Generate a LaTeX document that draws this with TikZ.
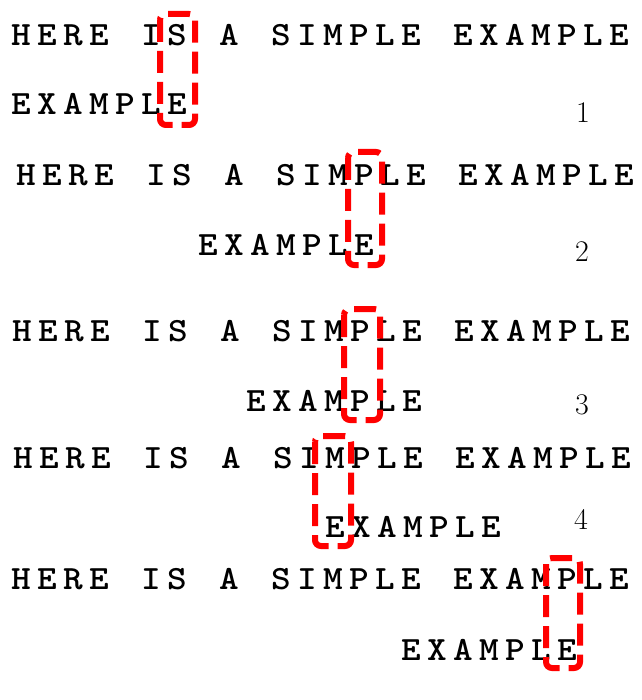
\documentclass[tikz,border=0pt]{standalone}
\usetikzlibrary{positioning}
\begin{document}
\begin{tikzpicture}[x=1pt,y=-1pt,
    letter/.style={inner sep=0pt,font=\fontsize{34}{34}\selectfont\ttfamily\bfseries},
    rownum/.style={inner sep=0pt,font=\fontsize{30}{30}\selectfont},
    matchbox/.style={red,line width=6pt,dash pattern=on 22pt off 9pt,rounded corners=6pt}]
      \useasboundingbox (0,0) rectangle (641,700);

      \foreach \r/\tx/\ty/\px/\py in {1/21/35/21/104, 2/26/175/208/245,
          3/22/331/256/401, 4/23/458/335/527, 5/21/579/411/650}{
        \foreach \c [count=\i from 0] in {H,E,R,E,{},I,S,{},A,{},S,I,M,P,L,E,{},E,X,A,M,P,L,E}
          \node[letter] (t\r-\i) at (\tx+26*\i,\ty) {\scalebox{1.1}[1]{\c}};
        \foreach \c [count=\i from 0] in {E,X,A,M,P,L,E}
          \node[letter] (p\r-\i) at (\px+26*\i,\py) {\scalebox{1.1}[1]{\c}};
      }

      \draw[matchbox] (160,14) rectangle (195,125);
      \draw[matchbox] (348,152) rectangle (382,265);
      \draw[matchbox] (344,309) rectangle (380,420);
      \draw[matchbox] (315,436) rectangle (351,546);
      \draw[matchbox] (546,558) rectangle (580,668);

      \node[rownum] (n1) at (583,113) {1};
      \node[rownum] (n2) at (582,252) {2};
      \node[rownum] (n3) at (582,405) {3};
      \node[rownum] (n4) at (581,519) {4};
    \end{tikzpicture}
\end{document}
